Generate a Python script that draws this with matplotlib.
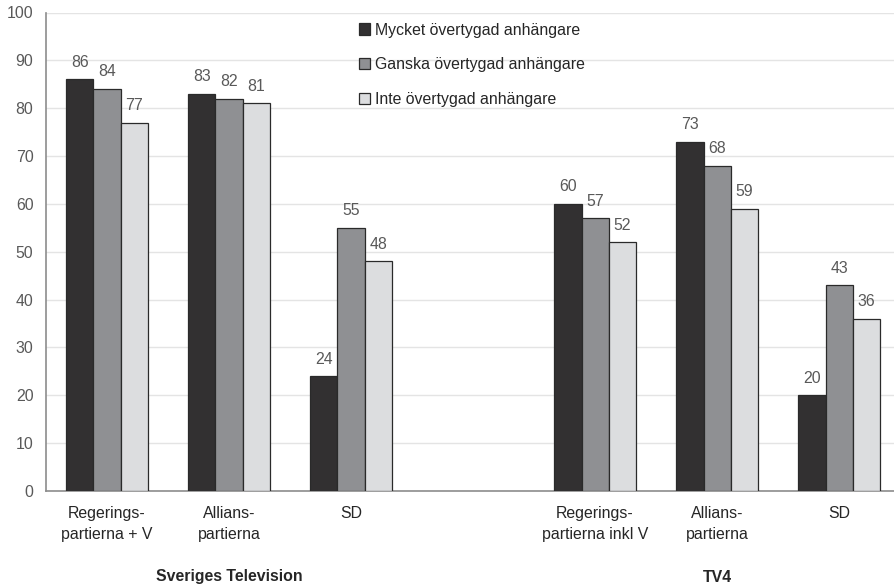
import matplotlib
matplotlib.use("Agg")
import matplotlib.pyplot as plt
import numpy as np

plt.rcParams['font.family'] = ['Liberation Sans', 'DejaVu Sans']

categories = ["Regerings-\npartierna + V", "Allians-\npartierna", "SD", "",
              "Regerings-\npartierna inkl V", "Allians-\npartierna", "SD"]
series_names = ["Mycket övertygad anhängare", "Ganska övertygad anhängare", "Inte övertygad anhängare"]
mycket = [86, 83, 24, None, 60, 73, 20]
ganska = [84, 82, 55, None, 57, 68, 43]
inte = [77, 81, 48, None, 52, 59, 36]
group_labels = ["Sveriges Television", "TV4"]
yticks = list(range(0, 101, 10))

colors = ["#323031", "#8f9093", "#dcdddf"]
FS = 11.4

fig = plt.figure(figsize=(8.94, 5.86), dpi=100)
ax = fig.add_axes([46/894, 1-491/586, (894-46)/894, (491-12.5)/586])

x = np.arange(len(categories))
w = 0.222
for i, (vals, c, name) in enumerate(zip([mycket, ganska, inte], colors, series_names)):
    xs = [xi + (i-1)*w for xi, v in zip(x, vals) if v is not None]
    vs = [v for v in vals if v is not None]
    ax.bar(xs, vs, width=w, color=c, edgecolor="#2a2a2a", linewidth=0.9, label=name, zorder=3)
    for xx, vv in zip(xs, vs):
        ax.text(xx, vv + 2.0, str(vv), ha="center", va="bottom", fontsize=FS, color="#595959")

ax.set_xlim(-0.5, 6.45)
ax.set_ylim(0, 100)
ax.set_yticks(yticks)
ax.tick_params(axis="y", length=0, labelsize=FS, labelcolor="#595959", pad=9)
ax.set_xticks(x)
ax.set_xticklabels(categories, fontsize=FS, color="#262626", linespacing=1.45)
ax.tick_params(axis="x", length=0, pad=11)
ax.grid(axis="y", color="#e4e4e4", linewidth=1, zorder=0)
for s in ["top", "right"]:
    ax.spines[s].set_visible(False)
ax.spines["left"].set_color("#8c8c8c")
ax.spines["bottom"].set_color("#8c8c8c")
ax.spines["left"].set_linewidth(1.2)
ax.spines["bottom"].set_linewidth(1.2)

fig.text(229/894, 1-577/586, group_labels[0], ha="center", va="center", fontsize=FS, fontweight="bold", color="#262626")
fig.text(717/894, 1-577/586, group_labels[1], ha="center", va="center", fontsize=FS, fontweight="bold", color="#262626")

leg = ax.legend(loc="upper left", bbox_to_anchor=((359-46)/848, 1 - (22.5-12.5)/478.5), frameon=False, fontsize=FS,
                handlelength=0.7, handleheight=0.7, handletextpad=0.3, labelspacing=1.25,
                borderaxespad=0, borderpad=0)
for t in leg.get_texts():
    t.set_color("#262626")

fig.savefig("out.png", dpi=100)
